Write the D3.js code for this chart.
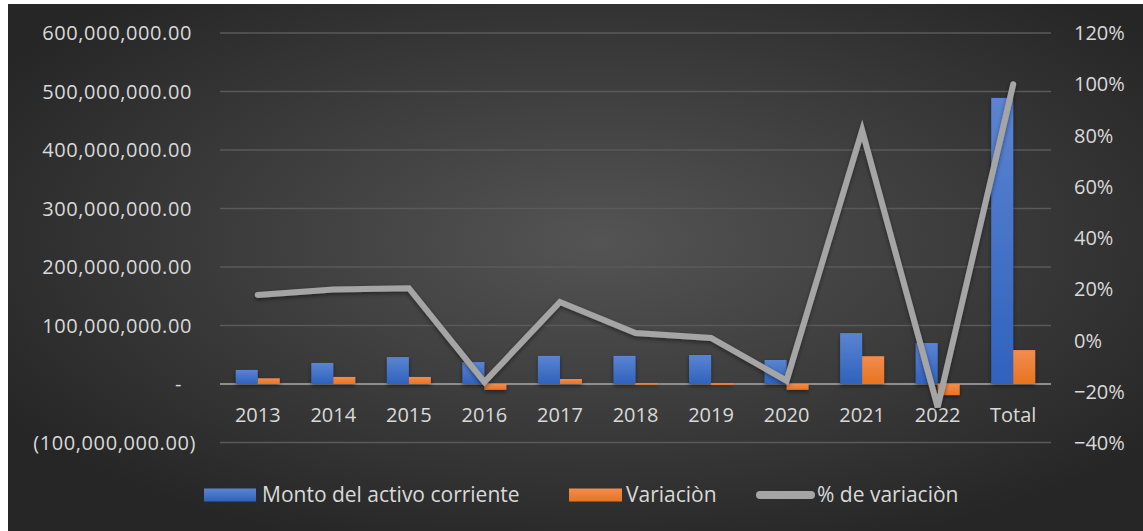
<!DOCTYPE html>
<html>
<head>
<meta charset="utf-8">
<script src="https://cdn.jsdelivr.net/npm/d3@7"></script>
<style>
  html, body { margin: 0; padding: 0; background: #fff; }
  svg { display: block; }
  text { font-family: "Open Sans", sans-serif; fill: #d9d9d9; }
</style>
</head>
<body>
<svg id="chart" width="1143" height="531"></svg>
<script>
// data
const years = ['2013', '2014', '2015', '2016', '2017', '2018', '2019', '2020', '2021', '2022', 'Total'];
const monto = [24e6, 36e6, 46e6, 37.5e6, 48e6, 48e6, 49.5e6, 41e6, 87e6, 70e6, 489e6];
const variacion = [9.7e6, 12e6, 12e6, -10e6, 8.5e6, 1.2e6, 0.9e6, -10e6, 47.5e6, -19e6, 58e6];
const pctVariacion = [0.178, 0.199, 0.204, -0.162, 0.150, 0.029, 0.010, -0.157, 0.82, -0.26, 1.0];
const leftTicks = [-100e6, 0, 100e6, 200e6, 300e6, 400e6, 500e6, 600e6];
const rightTicks = [-0.4, -0.2, 0, 0.2, 0.4, 0.6, 0.8, 1.0, 1.2];
const seriesNames = ['Monto del activo corriente', 'Variaciòn', '% de variaciòn'];

const svg = d3.select('#chart');
const W = 1143, H = 531;

// background
const defs = svg.append('defs');
const bg = defs.append('radialGradient').attr('id', 'bg')
  .attr('cx', '52%').attr('cy', '45%').attr('r', '62%');
bg.append('stop').attr('offset', '0%').attr('stop-color', '#545454');
bg.append('stop').attr('offset', '100%').attr('stop-color', '#262626');

const gBlue = defs.append('linearGradient').attr('id', 'gBlue')
  .attr('x1', 0).attr('y1', 0).attr('x2', 0).attr('y2', 1);
gBlue.append('stop').attr('offset', '0%').attr('stop-color', '#5b84d2');
gBlue.append('stop').attr('offset', '100%').attr('stop-color', '#2f62bd');
const gOrange = defs.append('linearGradient').attr('id', 'gOrange')
  .attr('x1', 0).attr('y1', 0).attr('x2', 0).attr('y2', 1);
gOrange.append('stop').attr('offset', '0%').attr('stop-color', '#f28c50');
gOrange.append('stop').attr('offset', '100%').attr('stop-color', '#e8741f');

const shadow = defs.append('filter').attr('id', 'shadow')
  .attr('x', '-20%').attr('y', '-20%').attr('width', '140%').attr('height', '160%');
shadow.append('feDropShadow').attr('dx', 0).attr('dy', 2).attr('stdDeviation', 2)
  .attr('flood-color', '#000').attr('flood-opacity', 0.45);

svg.append('rect').attr('x', 8).attr('y', 4).attr('width', W - 8).attr('height', H - 4)
  .attr('fill', 'url(#bg)');

// scales
const plotLeft = 220, plotRight = 1051;
const x = d3.scaleBand().domain(years).range([plotLeft, plotRight]);
const yL = d3.scaleLinear().domain([-100e6, 600e6]).range([442.5, 33]);
const yR = d3.scaleLinear().domain([-0.4, 1.2]).range([443, 33]);

// gridlines
svg.append('g')
  .selectAll('line')
  .data(leftTicks.filter(d => d !== 0))
  .join('line')
  .attr('x1', plotLeft).attr('x2', plotRight)
  .attr('y1', d => yL(d)).attr('y2', d => yL(d))
  .attr('stroke', '#5a5a5a').attr('stroke-width', 1.3);

// left axis labels (accounting format)
const fmt = d3.format(',.2f');
svg.append('g')
  .selectAll('text')
  .data(leftTicks)
  .join('text')
  .attr('x', d => d < 0 ? 196 : (d === 0 ? 182 : 192))
  .attr('y', d => yL(d))
  .attr('dy', '0.35em')
  .attr('text-anchor', 'end')
  .attr('font-size', 20)
  .attr('letter-spacing', 0.6)
  .text(d => d === 0 ? '-' : (d < 0 ? '(' + fmt(-d) + ')' : fmt(d)));

// right axis labels
svg.append('g')
  .selectAll('text')
  .data(rightTicks)
  .join('text')
  .attr('x', 1074)
  .attr('y', d => yR(d))
  .attr('dy', '0.35em')
  .attr('font-size', 20)
  .text(d => d3.format('.0%')(d));

// zero axis line
svg.append('line')
  .attr('x1', plotLeft).attr('x2', plotRight)
  .attr('y1', yL(0)).attr('y2', yL(0))
  .attr('stroke', '#8e8e8e').attr('stroke-width', 2);

// bars
const barW = 22;
const bars = svg.append('g').attr('filter', 'url(#shadow)');
bars.selectAll('.blue')
  .data(monto)
  .join('rect')
  .attr('class', 'blue')
  .attr('x', (d, i) => x(years[i]) + x.bandwidth() / 2 - barW)
  .attr('width', barW)
  .attr('y', d => Math.min(yL(d), yL(0)))
  .attr('height', d => Math.abs(yL(d) - yL(0)))
  .attr('fill', 'url(#gBlue)');
bars.selectAll('.orange')
  .data(variacion)
  .join('rect')
  .attr('class', 'orange')
  .attr('x', (d, i) => x(years[i]) + x.bandwidth() / 2)
  .attr('width', barW)
  .attr('y', d => Math.min(yL(d), yL(0)))
  .attr('height', d => Math.max(1.5, Math.abs(yL(d) - yL(0))))
  .attr('fill', 'url(#gOrange)');

// category labels
svg.append('g')
  .selectAll('text')
  .data(years)
  .join('text')
  .attr('x', d => x(d) + x.bandwidth() / 2)
  .attr('y', 415)
  .attr('dy', '0.35em')
  .attr('text-anchor', 'middle')
  .attr('font-size', 20)
  .text(d => d);

// % line
const line = d3.line()
  .x((d, i) => x(years[i]) + x.bandwidth() / 2)
  .y(d => yR(d));
svg.append('path')
  .datum(pctVariacion)
  .attr('d', line)
  .attr('fill', 'none')
  .attr('stroke', '#a5a5a5')
  .attr('stroke-width', 6)
  .attr('stroke-linejoin', 'miter')
  .attr('stroke-linecap', 'round')
  .attr('filter', 'url(#shadow)');

// legend
const lg = svg.append('g');
lg.append('rect').attr('x', 204).attr('y', 488.5).attr('width', 52).attr('height', 13).attr('fill', 'url(#gBlue)');
lg.append('rect').attr('x', 569).attr('y', 488.5).attr('width', 53).attr('height', 13).attr('fill', 'url(#gOrange)');
lg.append('line').attr('x1', 760).attr('x2', 811).attr('y1', 495).attr('y2', 495)
  .attr('stroke', '#a5a5a5').attr('stroke-width', 8).attr('stroke-linecap', 'round');
const legendX = [262, 626, 817];
lg.selectAll('text.leg')
  .data(seriesNames)
  .join('text')
  .attr('class', 'leg')
  .attr('x', (d, i) => legendX[i])
  .attr('y', 495)
  .attr('dy', '0.35em')
  .attr('font-size', 21)
  .text(d => d);
</script>
</body>
</html>
